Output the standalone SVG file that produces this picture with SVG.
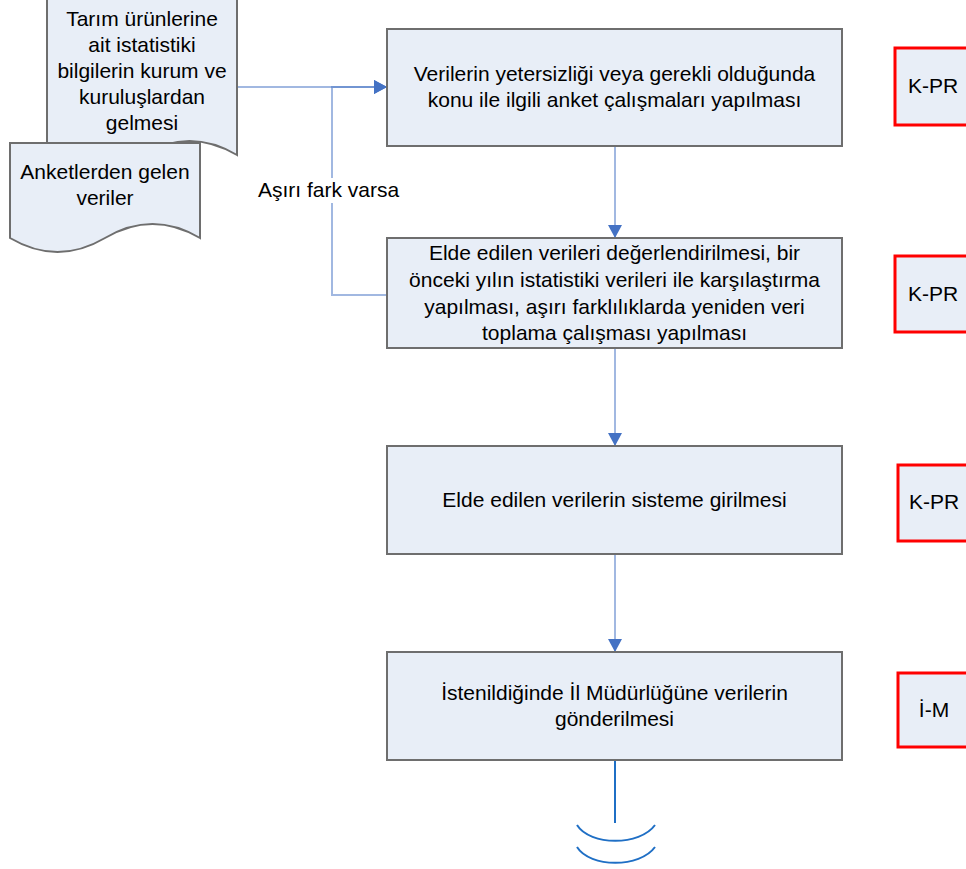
<svg xmlns="http://www.w3.org/2000/svg" width="966" height="869" viewBox="0 0 966 869">
<defs>
<style>
.box{fill:#e8eef7;stroke:#6e6e6e;stroke-width:2}
.doc{fill:#e8eef7;stroke:#6e6e6e;stroke-width:2}
.tag{fill:#e8eef7;stroke:#ff0000;stroke-width:3}
.t{font-family:"Liberation Sans",Arial,sans-serif;font-size:21px;fill:#000;text-anchor:middle}
.lbl{font-family:"Liberation Sans",Arial,sans-serif;font-size:21px;fill:#000}
.con{fill:none;stroke:#4472c4;stroke-opacity:0.5;stroke-width:2}
.end{fill:none;stroke:#1f6fc5;stroke-width:2}
</style>
<marker id="ah" viewBox="0 0 13 14" refX="13" refY="7" markerWidth="13" markerHeight="14" markerUnits="userSpaceOnUse" orient="auto">
<path d="M0,0 L13,7 L0,14 Z" fill="#4472c4"/>
</marker>
</defs>
<rect width="966" height="869" fill="#ffffff"/>

<g id="connectors">
<path class="con" d="M237,87 L387,87" marker-end="url(#ah)"/>
<path class="con" d="M387,295 L332,295 L332,87 L387,87" marker-end="url(#ah)"/>
<path class="con" d="M615,146 L615,238" marker-end="url(#ah)"/>
<path class="con" d="M615,348 L615,446" marker-end="url(#ah)"/>
<path class="con" d="M615,554 L615,652" marker-end="url(#ah)"/>
<path class="end" d="M615,760 L615,823"/>
<path class="end" d="M577,825 C590,846 640,846 655,825"/>
<path class="end" d="M577,847 C590,868 640,868 655,847"/>
</g>

<g id="label-feedback">
<rect x="254" y="178" width="150" height="25" fill="#ffffff"/>
<text class="lbl" x="258" y="197">Aşırı fark varsa</text>
</g>

<g id="doc1">
<path class="doc" d="M47,-5 L237,-5 L237,155 Q189.5,127 142,155 Q94.5,183 47,155 Z"/>
<text class="t" x="142" y="26">Tarım ürünlerine</text>
<text class="t" x="142" y="52">ait istatistiki</text>
<text class="t" x="142" y="78">bilgilerin kurum ve</text>
<text class="t" x="142" y="104">kuruluşlardan</text>
<text class="t" x="142" y="130">gelmesi</text>
</g>

<g id="doc2">
<path class="doc" d="M10,143 L200,143 L200,238 Q152.5,210 105,238 Q57.5,266 10,238 Z"/>
<text class="t" x="105" y="179">Anketlerden gelen</text>
<text class="t" x="105" y="205">veriler</text>
</g>

<g id="step1">
<rect class="box" x="387" y="29" width="455" height="117"/>
<text class="t" x="614.5" y="81">Verilerin yetersizliği veya gerekli olduğunda</text>
<text class="t" x="614.5" y="107">konu ile ilgili anket çalışmaları yapılması</text>
</g>

<g id="step2">
<rect class="box" x="387" y="238" width="455" height="110"/>
<text class="t" x="614.5" y="260">Elde edilen verileri değerlendirilmesi, bir</text>
<text class="t" x="614.5" y="287">önceki yılın istatistiki verileri ile karşılaştırma</text>
<text class="t" x="614.5" y="314">yapılması, aşırı farklılıklarda yeniden veri</text>
<text class="t" x="614.5" y="340">toplama çalışması yapılması</text>
</g>

<g id="step3">
<rect class="box" x="387" y="446" width="455" height="108"/>
<text class="t" x="614.5" y="507">Elde edilen verilerin sisteme girilmesi</text>
</g>

<g id="step4">
<rect class="box" x="387" y="652" width="455" height="108"/>
<text class="t" x="614.5" y="700">İstenildiğinde İl Müdürlüğüne verilerin</text>
<text class="t" x="614.5" y="726">gönderilmesi</text>
</g>

<g id="tag1">
<rect class="tag" x="895" y="48" width="80" height="77"/>
<text class="t" x="933" y="93">K-PR</text>
</g>
<g id="tag2">
<rect class="tag" x="895" y="256" width="80" height="76"/>
<text class="t" x="933" y="301">K-PR</text>
</g>
<g id="tag3">
<rect class="tag" x="898" y="465" width="80" height="76"/>
<text class="t" x="934" y="509">K-PR</text>
</g>
<g id="tag4">
<rect class="tag" x="898" y="673" width="80" height="74"/>
<text class="t" x="934" y="717">İ-M</text>
</g>
</svg>
